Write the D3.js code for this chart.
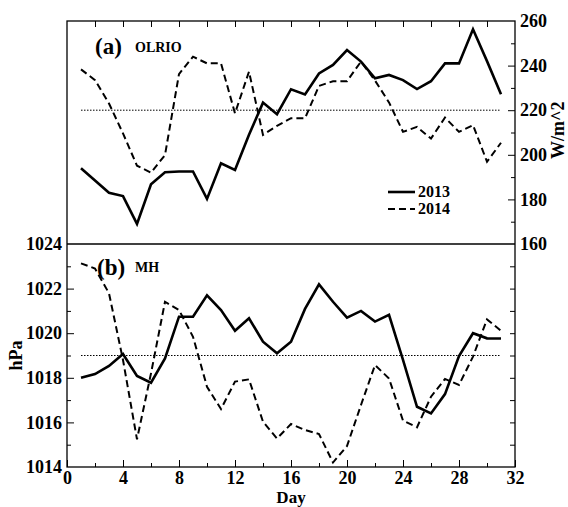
<!DOCTYPE html>
<html>
<head>
<meta charset="utf-8">
<script src="https://cdn.jsdelivr.net/npm/d3@7"></script>
<style>
  body { margin: 0; background: #fff; }
</style>
</head>
<body>
<script>
var width = 568,
    height = 507;

var FONT = '"Liberation Serif"';

// days 1..31
var days = d3.range(1, 32);

// (a) OLRIO, W/m^2
var olr2013 = [194, 188.5, 183, 181.5, 169, 186.8, 192.2, 192.5, 192.5, 180.2,
               196.2, 193.2, 209, 223.4, 218.2, 229.4, 227.1, 236.5, 240.3, 247,
               241.8, 234.3, 235.8, 233.5, 229.5, 233, 241, 241, 256.3, 242, 227.1];
var olr2014 = [238.3, 233.5, 223, 209.6, 195.1, 192, 199.9, 236.2, 244, 241,
               241, 218.6, 237.3, 208.9, 213, 216.4, 216.4, 230.9, 233, 233,
               241.8, 233.3, 223.5, 210.3, 212.5, 207.3, 216.7, 210.3, 213.3, 196.9, 205.4];

// (b) MH, hPa
var mh2013 = [1018.0, 1018.17, 1018.53, 1019.07, 1018.08, 1017.78, 1018.87, 1020.74, 1020.74, 1021.7,
              1021.04, 1020.11, 1020.67, 1019.62, 1019.1, 1019.62, 1021.09, 1022.19, 1021.41, 1020.7,
              1021.0, 1020.52, 1020.82, 1018.8, 1016.7, 1016.4, 1017.27, 1018.98, 1020.0, 1019.77, 1019.76];
var mh2014 = [1023.13, 1022.9, 1021.79, 1018.8, 1015.24, 1018.2, 1021.41, 1021.04, 1019.84, 1017.6,
              1016.6, 1017.83, 1017.93, 1016.03, 1015.28, 1015.93, 1015.66, 1015.48, 1014.2, 1014.94,
              1016.78, 1018.57, 1017.97, 1016.08, 1015.78, 1017.15, 1017.95, 1017.68, 1018.95, 1020.62, 1020.11];

var olrRef = 220,
    mhRef = 1019;

var years = ['2013', '2014'];

var svg = d3.select('body')
  .append('svg')
    .attr('width', width)
    .attr('height', height);

// plot frame (shared x, two stacked panels)
var pL = 67, pR = 515, pT = 21, pM = 244, pB = 467;

var x = d3.scaleLinear().domain([0, 32]).range([pL, pR]);
var yTop = d3.scaleLinear().domain([160, 260]).range([pM, pT]);
var yBot = d3.scaleLinear().domain([1014, 1024]).range([pB, pM]);

function styleAxis(g) {
  g.attr('font-family', null).attr('font-size', null);
  g.select('.domain').remove();
  g.selectAll('line').attr('stroke', '#000').attr('stroke-width', 1);
  g.selectAll('text')
      .style('font-family', FONT)
      .style('font-weight', 'bold')
      .style('font-size', '18px')
      .attr('fill', '#000');
}

var fmt = d3.format('d');

// x axis, bottom
svg.append('g')
    .attr('transform', 'translate(0,' + pB + ')')
    .call(d3.axisBottom(x).tickValues(d3.range(2, 32, 4)).tickSize(-4).tickFormat(''))
    .call(styleAxis);
svg.append('g')
    .attr('transform', 'translate(0,' + pB + ')')
    .call(d3.axisBottom(x).tickValues(d3.range(0, 33, 4)).tickSize(-7).tickPadding(4).tickFormat(fmt))
    .call(styleAxis);

// x ticks on top edge
svg.append('g')
    .attr('transform', 'translate(0,' + pT + ')')
    .call(d3.axisTop(x).tickValues(d3.range(2, 32, 2)).tickSize(-6).tickFormat(''))
    .call(styleAxis);

// right axis, top panel
svg.append('g')
    .attr('transform', 'translate(' + pR + ',0)')
    .call(d3.axisRight(yTop).tickValues(d3.range(170, 260, 20)).tickSize(-4).tickFormat(''))
    .call(styleAxis);
svg.append('g')
    .attr('transform', 'translate(' + pR + ',0)')
    .call(d3.axisRight(yTop).tickValues(d3.range(160, 261, 20)).tickSize(-7).tickPadding(5).tickFormat(fmt))
    .call(styleAxis)
    .call(function(g){ g.selectAll('.tick').filter(function(d){ return d === 160 || d === 260; }).select('line').remove(); });

// left axis, bottom panel
svg.append('g')
    .attr('transform', 'translate(' + pL + ',0)')
    .call(d3.axisLeft(yBot).tickValues(d3.range(1015, 1024, 2)).tickSize(-4).tickFormat(''))
    .call(styleAxis);
svg.append('g')
    .attr('transform', 'translate(' + pL + ',0)')
    .call(d3.axisLeft(yBot).tickValues(d3.range(1014, 1025, 2)).tickSize(-7).tickPadding(5).tickFormat(fmt))
    .call(styleAxis)
    .call(function(g){ g.selectAll('.tick').filter(function(d){ return d === 1014 || d === 1024; }).select('line').remove(); });

// right axis ticks, bottom panel
svg.append('g')
    .attr('transform', 'translate(' + pR + ',0)')
    .call(d3.axisRight(yBot).tickValues(d3.range(1015, 1024, 1)).tickSize(-5).tickFormat(''))
    .call(styleAxis);

// frame and divider
svg.append('rect')
    .attr('x', pL).attr('y', pT)
    .attr('width', pR - pL).attr('height', pB - pT)
    .attr('fill', 'none').attr('stroke', '#000').attr('stroke-width', 1.3);
svg.append('line')
    .attr('x1', pL).attr('x2', pR)
    .attr('y1', pM).attr('y2', pM)
    .attr('stroke', '#000').attr('stroke-width', 1.3);

// reference lines
svg.append('line')
    .attr('x1', x(1)).attr('x2', x(31))
    .attr('y1', yTop(olrRef)).attr('y2', yTop(olrRef))
    .attr('stroke', '#000').attr('stroke-width', 1).attr('stroke-dasharray', '1.5,1.5');
svg.append('line')
    .attr('x1', x(1)).attr('x2', x(31))
    .attr('y1', yBot(mhRef)).attr('y2', yBot(mhRef))
    .attr('stroke', '#000').attr('stroke-width', 1).attr('stroke-dasharray', '1.5,1.5');

function drawLine(data, yScale, dashed) {
  var line = d3.line()
      .x(function(d, i){ return x(days[i]); })
      .y(function(d){ return yScale(d); });
  svg.append('path')
      .datum(data)
      .attr('d', line)
      .attr('fill', 'none')
      .attr('stroke', '#000')
      .attr('stroke-width', dashed ? 2 : 2.6)
      .attr('stroke-linejoin', 'miter')
      .attr('stroke-dasharray', dashed ? '7,4' : null);
}

drawLine(olr2013, yTop, false);
drawLine(olr2014, yTop, true);
drawLine(mh2013, yBot, false);
drawLine(mh2014, yBot, true);

function label(xp, yp, size, txt) {
  return svg.append('text')
      .attr('x', xp).attr('y', yp)
      .style('font-family', FONT)
      .style('font-weight', 'bold')
      .style('font-size', size + 'px')
      .text(txt);
}

// panel labels
label(95, 54, 23, '(a)');
label(135, 52, 14, 'OLRIO');
label(97, 275, 23, '(b)');
label(135, 272, 14, 'MH');

// legend
years.forEach(function(yr, i){
  var ly = 192 + i * 17;
  svg.append('line')
      .attr('x1', 388).attr('x2', 415)
      .attr('y1', ly).attr('y2', ly)
      .attr('stroke', '#000')
      .attr('stroke-width', i ? 2 : 2.6)
      .attr('stroke-dasharray', i ? '7,4' : null);
  label(418, ly + 5, 16, yr);
});

// axis titles
label((pL + pR) / 2, 503, 17, 'Day').attr('text-anchor', 'middle');
label(0, 0, 18, 'hPa')
    .attr('text-anchor', 'middle')
    .attr('transform', 'translate(22,' + yBot(1019) + ') rotate(-90)');
label(0, 0, 18, 'W/m^2')
    .attr('text-anchor', 'middle')
    .attr('transform', 'translate(564,' + yTop(211) + ') rotate(-90)');
</script>
</body>
</html>
